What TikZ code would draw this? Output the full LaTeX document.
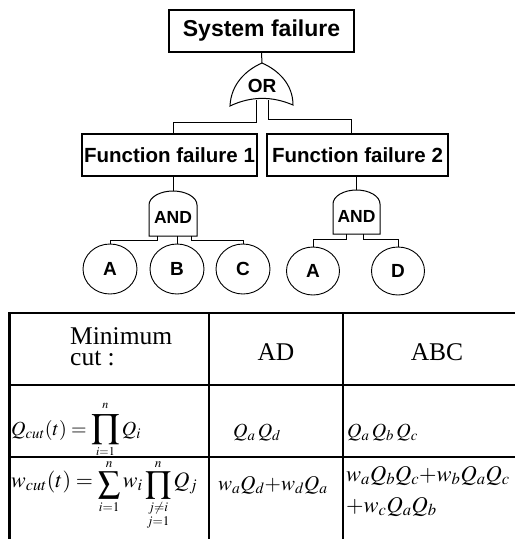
\documentclass[tikz,border=0pt]{standalone}
\usepackage{amsmath}
\usepackage{mathptmx}
\usepackage[no-math]{fontspec}
\setmainfont{Liberation Serif}
\setsansfont{Liberation Sans}
\usetikzlibrary{shapes.geometric}
\newcommand\bigprod{\mathop{\text{\fontsize{24}{24}\selectfont$\displaystyle\prod$}}\limits}
\newcommand\lowop[1]{\mathop{\raisebox{-3.5pt}{$\displaystyle#1$}}\limits}
\tikzset{
  event/.style={draw,line width=1.2pt,minimum height=42pt,inner sep=0pt,
                font=\sffamily\bfseries\fontsize{20.5}{22}\selectfont},
  gate/.style={draw,line width=1pt,fill=white},
  glabel/.style={inner sep=0pt,font=\sffamily\bfseries\fontsize{17.5}{18}\selectfont},
  basic/.style={ellipse,draw,line width=0.9pt,minimum width=54pt,minimum height=50pt,
                inner sep=0pt,font=\sffamily\bfseries\fontsize{19}{20}\selectfont},
  wire/.style={line width=1pt},
  rulethin/.style={line width=1.3pt},
  cell/.style={inner sep=0pt,font=\fontsize{25.5}{22}\selectfont},
  mcell/.style={inner sep=0pt,font=\fontsize{20}{22}\selectfont},
}
\begin{document}
\begin{tikzpicture}[x=1pt,y=-1pt]
  \useasboundingbox (0,0) rectangle (515,539);
  % fault tree
  \node[event,minimum width=185pt,font=\sffamily\bfseries\fontsize{23}{24}\selectfont]
    (sys) at (261.5,31) {System failure};
  \node[event,minimum width=175pt] (ff1) at (169.5,155) {Function failure 1};
  \node[event,minimum width=181pt] (ff2) at (357.5,155) {Function failure 2};
  % OR gate
  \draw[gate] (230,106) .. controls (231,84) and (246,70) .. (262,63)
    .. controls (278,70) and (293,84) .. (293,105)
    .. controls (272,96) and (251,96) .. cycle;
  \node[glabel,font=\sffamily\bfseries\fontsize{19}{20}\selectfont] (or) at (262,86) {OR};
  \coordinate (ortop) at (262,63);
  \coordinate (orL) at (256,100);
  \coordinate (orR) at (268,100);
  % AND gates
  \draw[gate] (149,236) -- (149,205) .. controls (149,197.3) and (159.8,191) .. (173,191)
    .. controls (186.2,191) and (197,197.3) .. (197,205) -- (197,236) -- cycle;
  \node[glabel] (and1) at (173,217) {AND};
  \draw[gate] (333,234) -- (333,204) .. controls (333,196.3) and (343.5,190) .. (356.5,190)
    .. controls (369.5,190) and (380,196.3) .. (380,204) -- (380,234) -- cycle;
  \node[glabel] (and2) at (356.5,216) {AND};
  % basic events
  \node[basic] (a1) at (110,269) {A};
  \node[basic] (b) at (177,269) {B};
  \node[basic] (c) at (243,269) {C};
  \node[basic,minimum width=53pt,minimum height=48pt] (a2) at (313,271) {A};
  \node[basic,minimum width=53pt,minimum height=48pt] (d) at (398,271) {D};
  % wiring
  \draw[wire] (sys.south) -- (ortop);
  \draw[wire] (orL) -- ++(0,22) -| ([xshift=3.5pt]ff1.north);
  \draw[wire] (orR) -- ++(0,19) -| ([xshift=-6.5pt]ff2.north);
  \draw[wire] ([xshift=3.5pt]ff1.south) -- (173,191);
  \draw[wire] ([xshift=-1pt]ff2.south) -- (356.5,190);
  \draw[wire] (157,236) -- ++(0,4) -| (a1.north);
  \draw[wire] (177,236) -- (b.north);
  \draw[wire] (191,236) -- ++(0,4) -| (c.north);
  \draw[wire] (346,234) -- ++(0,5) -| (a2.north);
  \draw[wire] (363,234) -- ++(0,5) -| (d.north);
  % table
  \draw[line width=2.5pt] (8,313) -- (515,313);
  \draw[line width=3pt] (9.5,312) -- (9.5,539);
  \draw[rulethin] (8,385) -- (515,385);
  \draw[rulethin] (8,457) -- (515,457);
  \draw[rulethin] (209,313) -- (209,539);
  \draw[rulethin] (343,313) -- (343,539);
  \node[cell,anchor=base west] (mc1) at (70,344) {Minimum};
  \node[cell,anchor=base west] (mc2) at (70,365) {cut :};
  \node[cell,anchor=base] (hAD) at (276,360) {AD};
  \node[cell,anchor=base] (hABC) at (437,360) {ABC};
  \node[mcell,anchor=base west] (q) at (11,435)
    {$\displaystyle Q_{cut}(t)=\bigprod_{\scriptscriptstyle i=1}^{\scriptscriptstyle n\rule[-4pt]{0pt}{4pt}}Q_i$};
  \node[mcell,anchor=base west] (qad) at (233,437) {$Q_a\,Q_d$};
  \node[mcell,anchor=base west] (qabc) at (347,437) {$Q_a\,Q_b\,Q_c$};
  \node[mcell,anchor=base west,font=\fontsize{22}{24}\selectfont] (w) at (11,487)
    {$\displaystyle w_{cut}(t)=\lowop{\sum}_{\scriptscriptstyle i=1}^{\scriptscriptstyle n\rule[-1.5pt]{0pt}{1.5pt}}w_i
     \lowop{\prod}_{\shortstack{$\scriptscriptstyle j\neq i$\\$\scriptscriptstyle j=1$}}^{\scriptscriptstyle n\rule[-1.5pt]{0pt}{1.5pt}}Q_j$};
  \node[mcell,anchor=base west,font=\fontsize{21}{24}\selectfont] (wad) at (218,490)
    {$w_aQ_d{+}w_dQ_a$};
  \node[mcell,anchor=base west,font=\fontsize{22.5}{24}\selectfont] (wabc1) at (346,481)
    {$w_aQ_bQ_c{+}w_bQ_aQ_c$};
  \node[mcell,anchor=base west,font=\fontsize{22.5}{24}\selectfont] (wabc2) at (346,512)
    {$+w_cQ_aQ_b$};
\end{tikzpicture}
\end{document}
